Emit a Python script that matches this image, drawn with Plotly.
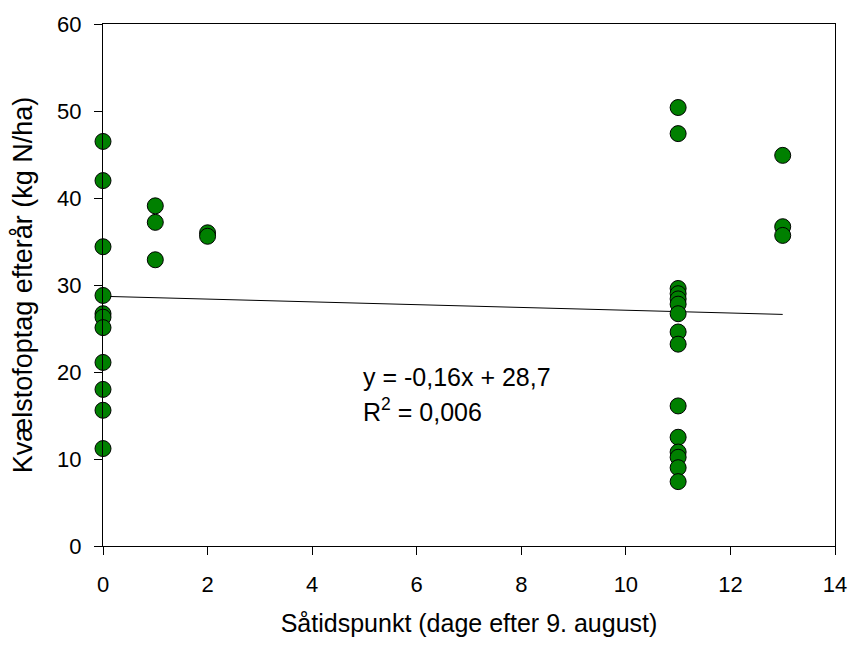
import plotly.graph_objects as go

x0 = [0] * 11
y0 = [46.5, 42.0, 34.4, 28.8, 26.7, 26.3, 25.1, 21.1, 18.0, 15.6, 11.2]
x1 = [1, 1, 1]
y1 = [39.1, 37.2, 32.9]
x2 = [2, 2]
y2 = [36.0, 35.6]
y11 = [50.4, 47.4, 29.6, 29.0, 28.4, 27.8, 26.7, 24.6, 23.2, 16.1, 12.5, 10.8, 10.2, 9.0, 7.4]
x11 = [11] * len(y11)
x13 = [13, 13, 13]
y13 = [44.9, 36.7, 35.7]

xs = x0 + x1 + x2 + x11 + x13
ys = y0 + y1 + y2 + y11 + y13

slope = -0.16
intercept = 28.7
fit_x = [0, 13]
fit_y = [intercept + slope * v for v in fit_x]

x_ticks = [0, 2, 4, 6, 8, 10, 12, 14]
y_ticks = [0, 10, 20, 30, 40, 50, 60]

font = "Liberation Sans, Arial, sans-serif"

fig = go.Figure()
fig.add_trace(go.Scatter(x=fit_x, y=fit_y, mode="lines",
                         line=dict(color="black", width=1), hoverinfo="skip",
                         cliponaxis=False))
fig.add_trace(go.Scatter(x=xs, y=ys, mode="markers",
                         marker=dict(size=16, color="#008000",
                                     line=dict(color="black", width=1)),
                         cliponaxis=False))

fig.add_annotation(x=4.94, y=19.4, xref="x", yref="y", xanchor="left", yanchor="middle",
                   text="y = -0,16x + 28,7", showarrow=False,
                   font=dict(family=font, size=25, color="black"))
fig.add_annotation(x=4.94, y=15.6, xref="x", yref="y", xanchor="left", yanchor="middle",
                   text="R<sup>2</sup> = 0,006", showarrow=False,
                   font=dict(family=font, size=25, color="black"))

fig.update_layout(
    width=859, height=645,
    margin=dict(l=103, r=16, t=18, b=95),
    paper_bgcolor="white", plot_bgcolor="white",
    showlegend=False,
    font=dict(family=font, size=22, color="black"),
    xaxis=dict(range=[0, 14], tickvals=x_ticks, ticks="outside", ticklen=8,
               tickcolor="black", showline=True, linecolor="black", linewidth=1,
               mirror=True, showgrid=False, zeroline=False,
               ticklabelstandoff=11, tickfont=dict(size=22),
               title=dict(text="Såtidspunkt (dage efter 9. august)", standoff=18,
                          font=dict(size=25))),
    yaxis=dict(range=[0, 60], tickvals=y_ticks, ticks="outside", ticklen=8,
               tickcolor="black", showline=True, linecolor="black", linewidth=1,
               mirror=True, showgrid=False, zeroline=False,
               ticklabelstandoff=8, tickfont=dict(size=22),
               title=dict(text="Kvælstofoptag efterår (kg N/ha)", standoff=16,
                          font=dict(size=27))),
)

fig.write_html("out.html")
